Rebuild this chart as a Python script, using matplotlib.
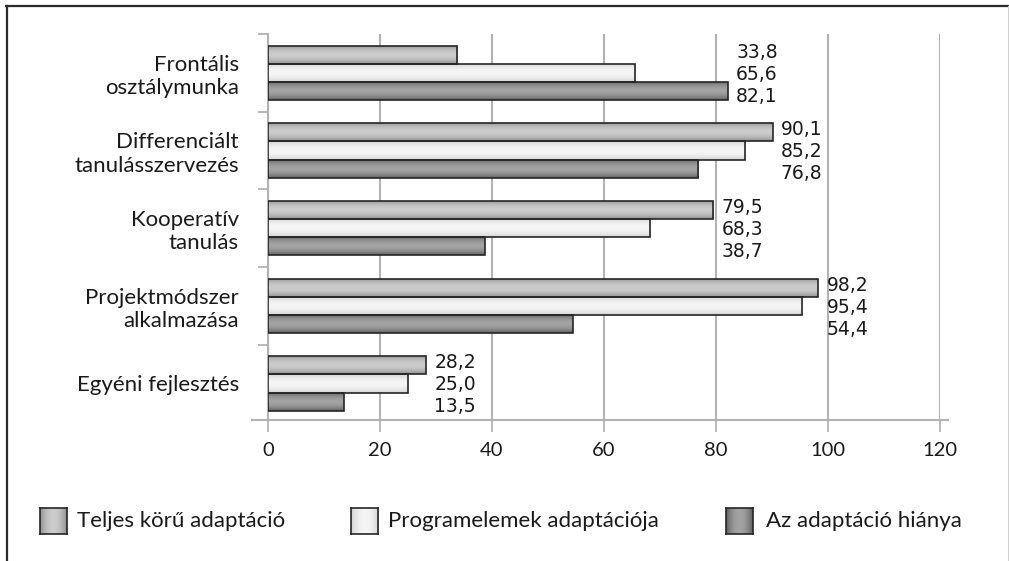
import numpy as np
import matplotlib
matplotlib.use("Agg")
import matplotlib.pyplot as plt
from matplotlib.lines import Line2D

categories = ["Frontális\nosztálymunka", "Differenciált\ntanulásszervezés", "Kooperatív\ntanulás",
              "Projektmódszer\nalkalmazása", "Egyéni fejlesztés"]
teljes = [33.8, 90.1, 79.5, 98.2, 28.2]
programelemek = [65.6, 85.2, 68.3, 95.4, 25.0]
hiany = [82.1, 76.8, 38.7, 54.4, 13.5]
series_names = ["Teljes körű adaptáció", "Programelemek adaptációja", "Az adaptáció hiánya"]
x_ticks = [0, 20, 40, 60, 80, 100, 120]

plt.rcParams['font.family'] = ['Lato', 'DejaVu Sans']

W, H = 1009, 561
GRID = '#b3b3b3'
EDGE = '#262626'
# (edge, center) grey level of each series gradient
shades = [(0.55, 0.80), (0.82, 0.96), (0.36, 0.64)]


def shade(edge, center, n=64):
    t = np.linspace(0, 1, n)
    v = edge + (center - edge) * np.sin(np.pi * t) ** 0.8
    return np.stack([v, v, v], axis=-1)


fig = plt.figure(figsize=(W / 100, H / 100), dpi=100)
ax = fig.add_axes([268 / W, 1 - 420 / H, 672 / W, 386 / H])

h = 0.232
y = np.arange(len(categories))
series = [teljes, programelemek, hiany]
for k, vals in enumerate(series):
    bars = ax.barh(y + (k - 1) * h, vals, height=h, facecolor='none',
                   edgecolor=EDGE, lw=1.2, zorder=4)
    grad = shade(*shades[k])[:, None, :]
    for b in bars:
        x0, y0 = b.get_x(), b.get_y()
        im = ax.imshow(grad, extent=[x0, x0 + b.get_width(), y0, y0 + b.get_height()],
                       aspect='auto', zorder=3, interpolation='bilinear')
        im.set_clip_path(b)

# value labels next to the longest bar of each group
for i in range(len(categories)):
    vals = [s[i] for s in series]
    txt = "\n".join(f"{v:.1f}".replace('.', ',') for v in vals)
    ax.annotate(txt, xy=(max(vals), i), xytext=(6, -1), textcoords='offset points',
                va='center', ha='left', multialignment='right', fontsize=13.5,
                family='DejaVu Sans', linespacing=1.2, color='#1a1a1a')

ax.set_xlim(0, 120)
ax.set_ylim(4.47, -0.5)
ax.set_xticks(x_ticks)
ax.set_xticklabels([str(v) for v in x_ticks])
ax.xaxis.grid(True, color=GRID, lw=1.5)
ax.set_axisbelow(True)
ax.tick_params(axis='x', length=8.5, width=1.3, color=GRID, pad=7, labelsize=14.5, labelcolor='#1a1a1a')

ax.set_yticks(np.arange(-0.5, len(categories) - 1, 1))
ax.set_yticklabels([])
ax.set_yticks(y, minor=True)
ax.set_yticklabels(categories, minor=True)
ax.tick_params(axis='y', which='major', length=7, width=1.3, color=GRID)
ax.tick_params(axis='y', which='minor', length=0, pad=21, labelsize=16, labelcolor='#1a1a1a')

for s in ['top', 'right', 'bottom']:
    ax.spines[s].set_visible(False)
ax.spines['left'].set_color(GRID)
ax.spines['left'].set_linewidth(1.5)
ax.plot([-0.024, 1.012], [0, 0], transform=ax.transAxes, clip_on=False, color=GRID, lw=1.5)

# legend drawn by hand at the bottom
box_x = [40, 351, 726]
text_x = [77, 388, 766]
for k, name in enumerate(series_names):
    lax = fig.add_axes([box_x[k] / W, 1 - 534 / H, 27 / W, 26 / H])
    lax.imshow(shade(*shades[k])[None, :, :], aspect='auto', extent=[0, 1, 0, 1], interpolation='bilinear')
    lax.set_xticks([])
    lax.set_yticks([])
    for sp in lax.spines.values():
        sp.set_color(EDGE)
        sp.set_linewidth(1.2)
    fig.text(text_x[k] / W, 1 - 521 / H, name, va='center', ha='left', fontsize=16, color='#1a1a1a')

# frame
fig.add_artist(Line2D([6 / W, 1], [1 - 6 / H, 1 - 6 / H], color='#2b2b2b', lw=1.6))
fig.add_artist(Line2D([6.5 / W, 6.5 / W], [0, 1 - 6 / H], color='#2b2b2b', lw=1.6))
fig.add_artist(Line2D([1007.5 / W, 1007.5 / W], [0, 1 - 6 / H], color='#d0d0d0', lw=0.8))

fig.savefig("out.png", dpi=100)
